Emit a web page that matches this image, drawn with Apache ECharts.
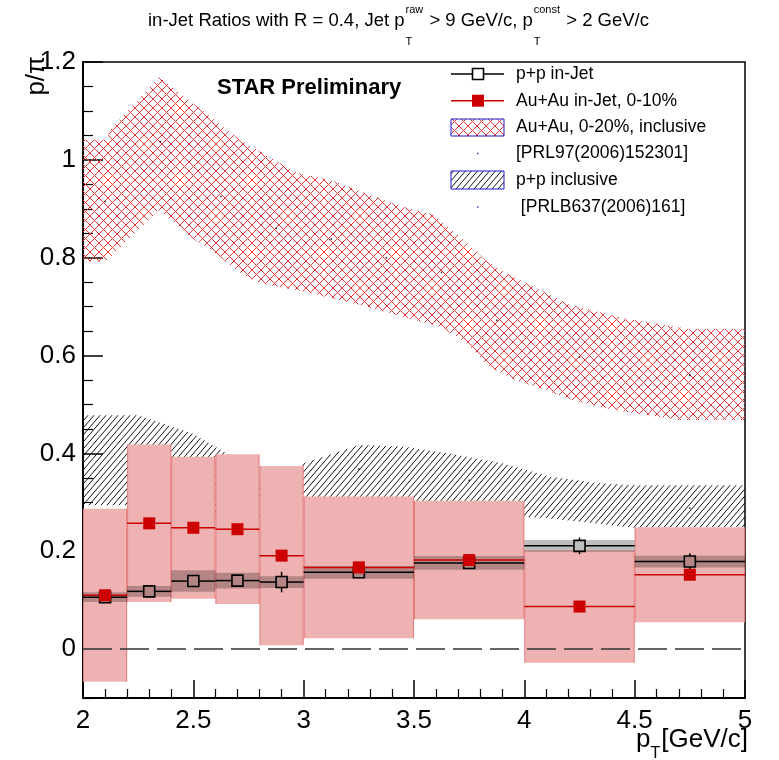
<!DOCTYPE html>
<html>
<head>
<meta charset="utf-8">
<script src="https://cdn.jsdelivr.net/npm/echarts@6/dist/echarts.min.js"></script>
<style>
  html, body { margin: 0; padding: 0; background: #fff; }
  #chart { width: 779px; height: 760px; }
</style>
</head>
<body>
<div id="chart"></div>
<script>
// ---- pT bins of the in-jet measurement ----
const binEdges = [2.0, 2.2, 2.4, 2.6, 2.8, 3.0, 3.5, 4.0, 4.5, 5.0];

// Au+Au in-jet p/pi, 0-10% (value, systematic half-width)
const auauJet    = [0.110, 0.257, 0.248, 0.245, 0.191, 0.167, 0.182, 0.087, 0.152];
const auauJetSys = [0.177, 0.161, 0.145, 0.153, 0.183, 0.145, 0.121, 0.115, 0.097];

// p+p in-jet p/pi (value, systematic half-width, statistical error)
const ppJet     = [0.106, 0.118, 0.139, 0.140, 0.137, 0.157, 0.176, 0.211, 0.179];
const ppJetSys  = [0.010, 0.011, 0.022, 0.016, 0.012, 0.013, 0.014, 0.012, 0.012];
const ppJetStat = [0.008, 0.008, 0.010, 0.010, 0.021, 0.008, 0.010, 0.017, 0.017];

// Au+Au 0-20% inclusive band [PRL97(2006)152301]
const aaInclUpX = [2.0, 2.11, 2.12, 2.345, 2.71, 2.97, 3.12, 3.44, 3.59, 3.74, 3.83, 3.92, 4.2, 4.45, 4.68, 4.75, 5.0];
const aaInclUpY = [1.041, 1.041, 1.06, 1.17, 1.041, 0.973, 0.959, 0.905, 0.888, 0.83, 0.792, 0.768, 0.705, 0.676, 0.659, 0.654, 0.654];
const aaInclLoX = [2.0, 2.1, 2.12, 2.345, 2.515, 2.56, 2.71, 2.8, 3.0, 3.26, 3.5, 3.62, 3.74, 3.84, 3.96, 4.09, 4.22, 4.4, 4.7, 5.0];
const aaInclLoY = [0.792, 0.792, 0.80, 0.898, 0.833, 0.823, 0.77, 0.748, 0.731, 0.703, 0.673, 0.659, 0.625, 0.577, 0.55, 0.53, 0.509, 0.489, 0.468, 0.468];
const aaInclX   = [2.1, 2.35, 2.625, 2.875, 3.125, 3.375, 3.625, 3.875, 4.25, 4.75];
const aaInclY   = [0.915, 1.037, 0.925, 0.860, 0.838, 0.80, 0.770, 0.672, 0.597, 0.560];

// p+p inclusive band [PRLB637(2006)161]
const ppInclUpX = [2.0, 2.25, 2.5, 2.8, 2.9, 3.0, 3.25, 3.45, 3.66, 3.9, 4.12, 4.34, 4.5, 5.0];
const ppInclUpY = [0.478, 0.478, 0.44, 0.36, 0.358, 0.38, 0.417, 0.414, 0.40, 0.38, 0.352, 0.339, 0.335, 0.335];
const ppInclLoX = [2.0, 2.2, 2.4, 2.7, 3.0, 3.5, 4.0, 4.1, 4.5, 5.0];
const ppInclLoY = [0.294, 0.294, 0.27, 0.264, 0.262, 0.268, 0.27, 0.268, 0.248, 0.25];
const ppInclX   = [3.25, 3.75, 4.75];
const ppInclY   = [0.368, 0.345, 0.288];

// axis ticks
const yMajorTicks = [0, 0.2, 0.4, 0.6, 0.8, 1, 1.2];
const yMinorTicks = [-0.1, -0.05, 0.05, 0.1, 0.15, 0.25, 0.3, 0.35, 0.45, 0.5, 0.55, 0.65, 0.7, 0.75,
                     0.85, 0.9, 0.95, 1.05, 1.1, 1.15];

const FONT = '"Liberation Sans", Arial, Helvetica, sans-serif';
const PINK = '#efb2b2';
const RED = '#cc0000';

// fill patterns
function crossHatch(p, color) {
  const c = document.createElement('canvas');
  c.width = p; c.height = p;
  const g = c.getContext('2d');
  g.strokeStyle = color; g.lineWidth = 1;
  g.beginPath();
  for (let k = -1; k <= 1; k++) {
    g.moveTo(-p, -p + k * p); g.lineTo(2 * p, 2 * p + k * p);
    g.moveTo(-p, 2 * p + k * p); g.lineTo(2 * p, -p + k * p);
  }
  g.stroke();
  return c;
}
function singleHatch(w, h, color) {
  const c = document.createElement('canvas');
  c.width = w; c.height = h;
  const g = c.getContext('2d');
  g.strokeStyle = color; g.lineWidth = 1;
  g.beginPath();
  for (let k = -1; k <= 1; k++) {
    g.moveTo(-w, 2 * h + k * h); g.lineTo(2 * w, -h + k * h);
  }
  g.stroke();
  return c;
}
const crossFill = { image: crossHatch(9, '#e03a3a'), repeat: 'repeat' };
const hatchFill = { image: singleHatch(6, 7, '#111'), repeat: 'repeat' };

// text helpers for the title and axis labels with sub/superscripts
const measureCtx = document.createElement('canvas').getContext('2d');
function textWidth(t, size, weight) {
  measureCtx.font = (weight || 'normal') + ' ' + size + 'px ' + FONT;
  return measureCtx.measureText(t).width;
}
function txt(t, x, y, size, opts) {
  opts = opts || {};
  return {
    type: 'text', x: x, y: y, silent: true, rotation: opts.rotation || 0,
    style: {
      text: t, fill: opts.color || '#000', fontFamily: FONT, fontSize: size,
      fontWeight: opts.weight || 'normal', align: opts.align || 'left', verticalAlign: 'middle'
    }
  };
}

// title: in-Jet Ratios with R = 0.4, Jet pT^raw > 9 GeV/c, pT^const > 2 GeV/c
const titleParts = [
  { t: 'in-Jet Ratios with R = 0.4, Jet p' },
  { sup: 'raw', sub: 'T' },
  { t: ' > 9 GeV/c, p' },
  { sup: 'const', sub: 'T' },
  { t: ' > 2 GeV/c' }
];
function buildTitle(x0, base) {
  const main = 18.5, small = 11;
  const out = [];
  let x = x0;
  titleParts.forEach(p => {
    if (p.t) {
      out.push(txt(p.t, x, base - 0.33 * main, main));
      x += textWidth(p.t, main);
    } else {
      out.push(txt(p.sup, x + 1, base - 13 - 0.33 * small, small));
      out.push(txt(p.sub, x + 1, base + 19 - 0.33 * small, small));
      x += Math.max(textWidth(p.sup, small), textWidth(p.sub, small)) + 2;
    }
  });
  return out;
}

// x-axis title p_T[GeV/c], right aligned to the frame
function buildXTitle(xr, base) {
  const main = 26, small = 16;
  const w2 = textWidth('[GeV/c]', main), wT = textWidth('T', small), wp = textWidth('p', main);
  const xs = xr - w2 - wT - wp;
  return [
    txt('p', xs, base - 0.33 * main, main),
    txt('T', xs + wp, base + 11 - 0.33 * small, small),
    txt('[GeV/c]', xs + wp + wT + 1, base - 0.33 * main, main)
  ];
}

// legend block
function buildLegend() {
  const rows = [74, 100.7, 127.5, 153.3, 180, 206.7];
  const x0 = 451, x1 = 504, xc = 478, tx = 516, fs = 17.5;
  const g = [];
  // p+p in-Jet
  g.push({ type: 'line', shape: { x1: x0, y1: rows[0], x2: xc - 6, y2: rows[0] }, style: { stroke: '#000', lineWidth: 1.5 } });
  g.push({ type: 'line', shape: { x1: xc + 6, y1: rows[0], x2: x1, y2: rows[0] }, style: { stroke: '#000', lineWidth: 1.5 } });
  g.push({ type: 'rect', shape: { x: xc - 5.5, y: rows[0] - 5.5, width: 11, height: 11 }, style: { fill: 'none', stroke: '#000', lineWidth: 1.6 } });
  g.push(txt('p+p in-Jet', tx, rows[0], fs));
  // Au+Au in-Jet
  g.push({ type: 'line', shape: { x1: x0, y1: rows[1], x2: x1, y2: rows[1] }, style: { stroke: RED, lineWidth: 1.5 } });
  g.push({ type: 'rect', shape: { x: xc - 6, y: rows[1] - 6, width: 12, height: 12 }, style: { fill: RED } });
  g.push(txt('Au+Au in-Jet, 0-10%', tx, rows[1], fs));
  // Au+Au inclusive
  g.push({ type: 'rect', shape: { x: x0, y: 119, width: x1 - x0, height: 17 }, style: { fill: crossFill, stroke: '#1a1acc', lineWidth: 1 } });
  g.push(txt('Au+Au, 0-20%, inclusive', tx, rows[2], fs));
  g.push({ type: 'rect', shape: { x: xc - 1, y: rows[3] - 0.5, width: 1.5, height: 1.5 }, style: { fill: '#2233dd' } });
  g.push(txt('[PRL97(2006)152301]', tx, rows[3], fs));
  // p+p inclusive
  g.push({ type: 'rect', shape: { x: x0, y: 171, width: x1 - x0, height: 18 }, style: { fill: hatchFill, stroke: '#1a1acc', lineWidth: 1 } });
  g.push(txt('p+p inclusive', tx, rows[4], fs));
  g.push({ type: 'rect', shape: { x: xc - 1, y: rows[5] - 0.5, width: 1.5, height: 1.5 }, style: { fill: '#2233dd' } });
  g.push(txt(' [PRLB637(2006)161]', tx, rows[5], fs));
  return g;
}

// polygon from an upper and a lower edge
function bandRenderer(upX, upY, loX, loY, fill) {
  return function (params, api) {
    const pts = [];
    for (let i = 0; i < upX.length; i++) pts.push(api.coord([upX[i], upY[i]]));
    for (let i = loX.length - 1; i >= 0; i--) pts.push(api.coord([loX[i], loY[i]]));
    return { type: 'polygon', shape: { points: pts }, style: { fill: fill, stroke: null } };
  };
}

const auauBins = auauJet.map((v, i) => [binEdges[i], binEdges[i + 1], v, auauJetSys[i]]);
const ppBins = ppJet.map((v, i) => [binEdges[i], binEdges[i + 1], v, ppJetSys[i], ppJetStat[i]]);

const chart = echarts.init(document.getElementById('chart'), null, { renderer: 'canvas' });

chart.setOption({
  backgroundColor: '#fff',
  animation: false,
  grid: { left: 83, right: 34, top: 62, bottom: 62, show: true, borderColor: '#000', borderWidth: 1.5, backgroundColor: 'transparent' },
  xAxis: {
    type: 'value', min: 2, max: 5, interval: 0.5,
    axisLine: { show: true, onZero: false, lineStyle: { color: '#000', width: 2 } },
    axisTick: { show: true, inside: true, length: 18, lineStyle: { color: '#000', width: 1.5 } },
    minorTick: { show: true, splitNumber: 5, length: 9, lineStyle: { color: '#000', width: 1.2 } },
    axisLabel: { color: '#000', fontFamily: FONT, fontSize: 26, margin: 10 },
    splitLine: { show: false }
  },
  yAxis: [{
    type: 'value', min: -0.1, max: 1.2,
    axisLine: { show: true, onZero: false, lineStyle: { color: '#000', width: 2 } },
    axisTick: { show: true, inside: true, length: 20, customValues: yMajorTicks, lineStyle: { color: '#000', width: 1.5 } },
    axisLabel: { color: '#000', fontFamily: FONT, fontSize: 26, margin: 7, customValues: yMajorTicks },
    splitLine: { show: false }
  }, {
    type: 'value', min: -0.1, max: 1.2, position: 'left',
    axisLine: { show: false, onZero: false },
    axisTick: { show: true, inside: true, length: 10, customValues: yMinorTicks, lineStyle: { color: '#000', width: 1.2 } },
    axisLabel: { show: false, customValues: yMinorTicks },
    splitLine: { show: false }
  }],
  graphic: [].concat(
    buildTitle(148, 27),
    buildXTitle(747, 748),
    [txt('p/\u03c0', 37, 56, 26, { align: 'right', rotation: Math.PI / 2 })],
    [txt('STAR Preliminary', 217, 88, 22, { weight: 'bold' })],
    buildLegend()
  ),
  series: [
    {
      name: 'Au+Au, 0-20%, inclusive', type: 'custom', silent: true,
      data: [[aaInclUpX[0], aaInclUpY[0]]], encode: { x: 0, y: 1 },
      renderItem: bandRenderer(aaInclUpX, aaInclUpY, aaInclLoX, aaInclLoY, crossFill)
    },
    {
      name: 'Au+Au inclusive centre', type: 'scatter', silent: true, symbol: 'rect', symbolSize: 1.6,
      itemStyle: { color: '#000' }, data: aaInclX.map((x, i) => [x, aaInclY[i]])
    },
    {
      name: 'p+p inclusive', type: 'custom', silent: true,
      data: [[ppInclUpX[0], ppInclUpY[0]]], encode: { x: 0, y: 1 },
      renderItem: bandRenderer(ppInclUpX, ppInclUpY, ppInclLoX, ppInclLoY, hatchFill)
    },
    {
      name: 'p+p inclusive centre', type: 'scatter', silent: true, symbol: 'rect', symbolSize: 1.6,
      itemStyle: { color: '#000' }, data: ppInclX.map((x, i) => [x, ppInclY[i]])
    },
    {
      // Au+Au in-jet systematic boxes
      name: 'Au+Au sys', type: 'custom', silent: true, data: auauBins,
      encode: { x: [0, 1], y: 2 },
      renderItem: function (params, api) {
        const lo = api.value(0), hi = api.value(1), v = api.value(2), s = api.value(3);
        const a = api.coord([lo, v + s]), b = api.coord([hi, v - s]);
        const edge = { stroke: 'rgba(215,60,60,0.45)', lineWidth: 1 };
        return {
          type: 'group', children: [
            { type: 'rect', shape: { x: a[0], y: a[1], width: b[0] - a[0], height: b[1] - a[1] }, style: { fill: PINK } },
            { type: 'line', shape: { x1: a[0] + 0.5, y1: a[1], x2: a[0] + 0.5, y2: b[1] }, style: edge },
            { type: 'line', shape: { x1: b[0] - 0.5, y1: a[1], x2: b[0] - 0.5, y2: b[1] }, style: edge }
          ]
        };
      }
    },
    {
      // p+p in-jet systematic boxes
      name: 'p+p sys', type: 'custom', silent: true, data: ppBins,
      encode: { x: [0, 1], y: 2 },
      renderItem: function (params, api) {
        const lo = api.value(0), hi = api.value(1), v = api.value(2), s = api.value(3);
        const a = api.coord([lo, v + s]), b = api.coord([hi, v - s]);
        return { type: 'rect', shape: { x: a[0], y: a[1], width: b[0] - a[0], height: b[1] - a[1] }, style: { fill: 'rgba(0,0,0,0.25)' } };
      }
    },
    {
      name: 'zero', type: 'line', silent: true, symbol: 'none',
      data: [[2, 0], [5, 0]],
      lineStyle: { color: '#333', width: 1.5, type: [29, 8] }
    },
    {
      // p+p in-jet points with bin-width bars and stat errors
      name: 'p+p in-Jet', type: 'custom', silent: true, data: ppBins,
      encode: { x: [0, 1], y: 2 },
      renderItem: function (params, api) {
        const lo = api.value(0), hi = api.value(1), v = api.value(2), st = api.value(4);
        const xc = (lo + hi) / 2;
        const c = api.coord([xc, v]), l = api.coord([lo, v]), r = api.coord([hi, v]);
        const t = api.coord([xc, v + st]), b = api.coord([xc, v - st]);
        const h = 5.5, line = { stroke: '#000', lineWidth: 1.5 };
        const kids = [
          { type: 'line', shape: { x1: l[0], y1: c[1], x2: c[0] - h, y2: c[1] }, style: line },
          { type: 'line', shape: { x1: c[0] + h, y1: c[1], x2: r[0], y2: c[1] }, style: line }
        ];
        if (c[1] - t[1] > h) {
          kids.push({ type: 'line', shape: { x1: c[0], y1: t[1], x2: c[0], y2: c[1] - h }, style: line });
          kids.push({ type: 'line', shape: { x1: c[0], y1: c[1] + h, x2: c[0], y2: b[1] }, style: line });
        }
        kids.push({ type: 'rect', shape: { x: c[0] - h, y: c[1] - h, width: 2 * h, height: 2 * h }, style: { fill: 'none', stroke: '#000', lineWidth: 1.6 } });
        return { type: 'group', children: kids };
      }
    },
    {
      // Au+Au in-jet points with bin-width bars
      name: 'Au+Au in-Jet, 0-10%', type: 'custom', silent: true, data: auauBins,
      encode: { x: [0, 1], y: 2 },
      renderItem: function (params, api) {
        const lo = api.value(0), hi = api.value(1), v = api.value(2);
        const xc = (lo + hi) / 2;
        const c = api.coord([xc, v]), l = api.coord([lo, v]), r = api.coord([hi, v]);
        return {
          type: 'group', children: [
            { type: 'line', shape: { x1: l[0], y1: c[1], x2: r[0], y2: c[1] }, style: { stroke: RED, lineWidth: 1.5 } },
            { type: 'rect', shape: { x: c[0] - 6, y: c[1] - 6, width: 12, height: 12 }, style: { fill: RED } }
          ]
        };
      }
    }
  ]
});
</script>
</body>
</html>
